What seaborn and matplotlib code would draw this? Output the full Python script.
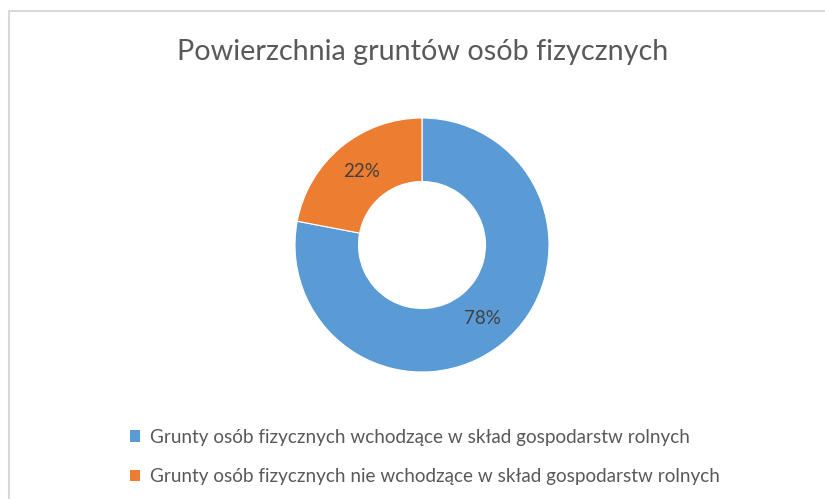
import matplotlib
matplotlib.use("Agg")
import matplotlib.pyplot as plt
import matplotlib.patches as mpatches
import seaborn as sns

# Data
categories = [
    "Grunty osób fizycznych wchodzące w skład gospodarstw rolnych",
    "Grunty osób fizycznych nie wchodzące w skład gospodarstw rolnych",
]
shares = [78, 22]
colors = ["#5b9bd5", "#ed7d31"]
title = "Powierzchnia gruntów osób fizycznych"

sns.set_theme(style="white")
plt.rcParams["font.family"] = ["Lato", "DejaVu Sans"]

W, H = 825, 499
fig = plt.figure(figsize=(W / 100, H / 100), dpi=100)

# chart area border (Excel style)
border = mpatches.Rectangle((8.5 / W, -0.1), 1.2, 1 - 11.5 / H + 0.1,
                            transform=fig.transFigure, fill=False,
                            edgecolor="#d9d9d9", linewidth=1.5)
fig.patches.append(border)

# donut: center (422, 245) px, radius 127 px
cx, cy, r = 422, 245, 127
ax = fig.add_axes([(cx - r) / W, (H - cy - r) / H, 2 * r / W, 2 * r / H])
wedges, texts, autotexts = ax.pie(
    shares, colors=colors, startangle=90, counterclock=False,
    radius=1, autopct="%d%%", pctdistance=0.75,
    wedgeprops=dict(width=0.5, edgecolor="white", linewidth=0.8),
    textprops=dict(color="#404040", fontsize=13.5),
)
ax.set_xlim(-1, 1)
ax.set_ylim(-1, 1)
ax.axis("off")

fig.text(cx / W + 0.001, 1 - 52 / H, title, ha="center", va="center",
         fontsize=20.7, color="#595959")

handles = [mpatches.Patch(facecolor=c, edgecolor="none") for c in colors]
leg = fig.legend(handles, categories, loc="upper left",
                 bbox_to_anchor=(122 / W, 1 - 421 / H), frameon=False,
                 fontsize=13.6, labelcolor="#595959",
                 handlelength=0.55, handleheight=0.55, handletextpad=0.55,
                 labelspacing=1.2, borderaxespad=0)

fig.savefig("out.png", dpi=100, facecolor="white")
